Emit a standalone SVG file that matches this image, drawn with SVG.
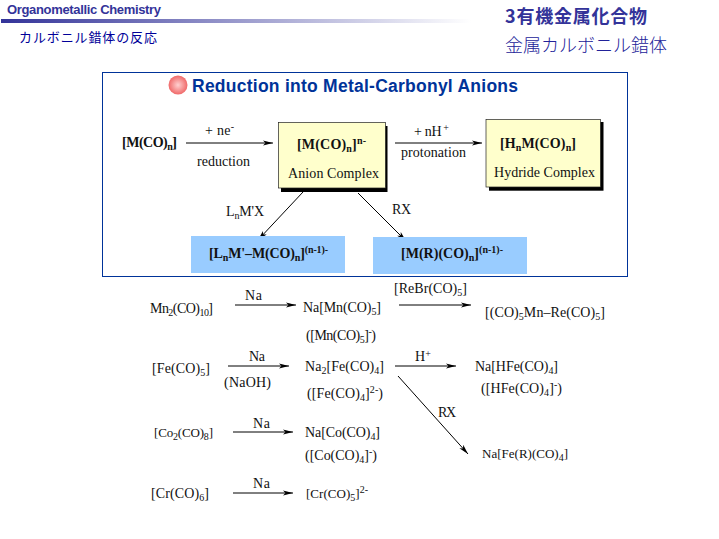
<svg xmlns="http://www.w3.org/2000/svg" width="719" height="539" viewBox="0 0 719 539">
<style>
text{font-family:"Liberation Serif","Noto Sans CJK JP",serif;font-size:14px;fill:#111}
.b{font-weight:bold;font-size:14px;fill:#111}
.h{font-family:"Liberation Sans","Noto Sans CJK JP",sans-serif;font-weight:bold;fill:#333399;font-size:13px}
.j{font-family:"Noto Sans CJK JP",sans-serif;fill:#333399}
.t{font-family:"Liberation Sans",sans-serif;font-weight:bold;font-size:17.5px;fill:#003399}
.y{fill:#ffffcc;stroke:#222;stroke-width:.7}
.sh{fill:#000}
.bl{fill:#99ccff}
.c line{stroke:#000;stroke-width:1;marker-end:url(#a)}
.s{font-size:10px}
</style>
<defs>
<linearGradient id="g"><stop offset="0" stop-color="#333399"/><stop offset="1" stop-color="#fff"/></linearGradient>
<radialGradient id="r" cx=".5" cy=".5" r=".55"><stop offset="0" stop-color="#ffd0d0"/><stop offset="1" stop-color="#ee5f5f"/></radialGradient>
<marker id="a" markerUnits="userSpaceOnUse" markerWidth="12" markerHeight="8" refX="10" refY="4" orient="auto"><path d="M0 1.4L10 4L0 6.6L2.5 4Z" fill="#000"/></marker>
</defs>
<rect width="719" height="539" fill="#fff"/>
<g id="header">
<text class="h" x="7" y="14" textLength="154">Organometallic Chemistry</text>
<rect x="1" y="19" width="470" height="4" fill="url(#g)"/>
<text class="j" x="19" y="42" style="font-size:13px;fill:#000099" textLength="138">カルボニル錯体の反応</text>
<text class="j" x="505" y="23" style="font-size:18px;font-weight:bold" textLength="142">3有機金属化合物</text>
<text class="j" x="505" y="52" style="font-size:18px;font-weight:300;fill:#222299" textLength="162">金属カルボニル錯体</text>
</g>
<g id="panel">
<rect x="102.5" y="72.5" width="525" height="204" fill="none" stroke="#003399"/>
<circle cx="178" cy="85" r="9.5" fill="url(#r)"/>
<text class="t" x="192" y="92" textLength="326">Reduction into Metal-Carbonyl Anions</text>
</g>
<g class="c" id="connectors">
<line x1="186" y1="143" x2="273" y2="143"/>
<line x1="395" y1="143" x2="482" y2="143"/>
<line x1="303" y1="192" x2="258" y2="240"/>
<line x1="358" y1="193" x2="406" y2="241"/>
<line x1="235" y1="305" x2="296" y2="305"/>
<line x1="399" y1="305" x2="471" y2="305"/>
<line x1="228" y1="366" x2="289" y2="366"/>
<line x1="395" y1="366" x2="456" y2="366"/>
<line x1="398" y1="376" x2="468" y2="454"/>
<line x1="233" y1="432" x2="293" y2="432"/>
<line x1="233" y1="493" x2="293" y2="493"/>
</g>
<g id="n1"><text class="b" x="122" y="147" textLength="55">[M(CO)<tspan class="s" dy="3">n</tspan><tspan dy="-3">]</tspan></text></g>
<g id="l1"><text x="205" y="135" textLength="29">+ ne<tspan class="s" dy="-5">-</tspan></text>
<text x="197" y="166" textLength="53">reduction</text></g>
<g id="n2"><rect class="sh" x="281" y="126" width="106.5" height="66"/><rect class="y" x="278.5" y="122.5" width="107" height="65.5"/>
<text class="b" x="297" y="149" textLength="69">[M(CO)<tspan class="s" dy="3">n</tspan><tspan dy="-3">]</tspan><tspan class="s" dy="-5">n-</tspan></text>
<text x="288" y="178" textLength="91">Anion Complex</text></g>
<g id="l2"><text x="414" y="136" textLength="35">+ nH<tspan class="s" dy="-5"> +</tspan></text>
<text x="401" y="157" textLength="65">protonation</text></g>
<g id="n3"><rect class="sh" x="489" y="122" width="114.5" height="68.7"/><rect class="y" x="486" y="119.5" width="114.5" height="67.5"/>
<text class="b" x="500" y="148" textLength="76">[H<tspan class="s" dy="3">n</tspan><tspan dy="-3">M(CO)</tspan><tspan class="s" dy="3">n</tspan><tspan dy="-3">]</tspan></text>
<text x="494" y="177" textLength="101">Hydride Complex</text></g>
<g id="l3"><text x="226" y="216" textLength="38">L<tspan class="s" dy="3">n</tspan><tspan dy="-3">M'X</tspan></text>
<text x="392" y="214" textLength="19">RX</text></g>
<g id="n4"><rect class="bl" x="191" y="236" width="154" height="37"/>
<text class="b" x="209" y="258" textLength="119">[L<tspan class="s" dy="3">n</tspan><tspan dy="-3">M'–M(CO)</tspan><tspan class="s" dy="3">n</tspan><tspan dy="-3">]</tspan><tspan class="s" dy="-5">(n-1)-</tspan></text></g>
<g id="n5"><rect class="bl" x="373" y="237" width="154" height="37"/>
<text class="b" x="401" y="258" textLength="102">[M(R)(CO)<tspan class="s" dy="3">n</tspan><tspan dy="-3">]</tspan><tspan class="s" dy="-5">(n-1)-</tspan></text></g>
<g id="r1">
<text x="150" y="313" textLength="63">Mn<tspan class="s" dy="3">2</tspan><tspan dy="-3">(CO)</tspan><tspan class="s" dy="3">10</tspan><tspan dy="-3">]</tspan></text>
<text x="245" y="300" textLength="17">Na</text>
<text x="303" y="312" textLength="78">Na[Mn(CO)<tspan class="s" dy="3">5</tspan><tspan dy="-3">]</tspan></text>
<text x="306" y="340" textLength="70">([Mn(CO)<tspan class="s" dy="3">5</tspan><tspan dy="-3">]</tspan><tspan class="s" dy="-5">-</tspan><tspan dy="5">)</tspan></text>
<text x="394" y="293" textLength="73">[ReBr(CO)<tspan class="s" dy="3">5</tspan><tspan dy="-3">]</tspan></text>
<text x="485" y="317" textLength="120">[(CO)<tspan class="s" dy="3">5</tspan><tspan dy="-3">Mn–Re(CO)</tspan><tspan class="s" dy="3">5</tspan><tspan dy="-3">]</tspan></text>
</g>
<g id="r2">
<text x="152" y="373" textLength="58">[Fe(CO)<tspan class="s" dy="3">5</tspan><tspan dy="-3">]</tspan></text>
<text x="249" y="361" textLength="16">Na</text>
<text x="224" y="387" textLength="47">(NaOH)</text>
<text x="305" y="371" textLength="79">Na<tspan class="s" dy="3">2</tspan><tspan dy="-3">[Fe(CO)</tspan><tspan class="s" dy="3">4</tspan><tspan dy="-3">]</tspan></text>
<text x="307" y="398" textLength="76">([Fe(CO)<tspan class="s" dy="3">4</tspan><tspan dy="-3">]</tspan><tspan class="s" dy="-5">2-</tspan><tspan dy="5">)</tspan></text>
<text x="415" y="361" textLength="16">H<tspan class="s" dy="-4">+</tspan></text>
<text x="475" y="371" textLength="83">Na[HFe(CO)<tspan class="s" dy="3">4</tspan><tspan dy="-3">]</tspan></text>
<text x="481" y="393" textLength="81">([HFe(CO)<tspan class="s" dy="3">4</tspan><tspan dy="-3">]</tspan><tspan class="s" dy="-5">-</tspan><tspan dy="5">)</tspan></text>
<text x="438" y="417" textLength="18">RX</text>
<text x="482" y="458" textLength="86" style="font-size:13px">Na[Fe(R)(CO)<tspan class="s" dy="3">4</tspan><tspan dy="-3">]</tspan></text>
</g>
<g id="r3">
<text x="154" y="437" textLength="59" style="font-size:13px">[Co<tspan class="s" dy="3">2</tspan><tspan dy="-3">(CO)</tspan><tspan class="s" dy="3">8</tspan><tspan dy="-3">]</tspan></text>
<text x="253" y="428" textLength="17">Na</text>
<text x="305" y="437" textLength="75">Na[Co(CO)<tspan class="s" dy="3">4</tspan><tspan dy="-3">]</tspan></text>
<text x="305" y="460" textLength="72">([Co(CO)<tspan class="s" dy="3">4</tspan><tspan dy="-3">]</tspan><tspan class="s" dy="-5">-</tspan><tspan dy="5">)</tspan></text>
</g>
<g id="r4">
<text x="151" y="498" textLength="58">[Cr(CO)<tspan class="s" dy="3">6</tspan><tspan dy="-3">]</tspan></text>
<text x="253" y="488" textLength="17">Na</text>
<text x="306" y="498" textLength="62" style="font-size:13px">[Cr(CO)<tspan class="s" dy="3">5</tspan><tspan dy="-3">]</tspan><tspan class="s" dy="-5">2-</tspan></text>
</g>
</svg>
